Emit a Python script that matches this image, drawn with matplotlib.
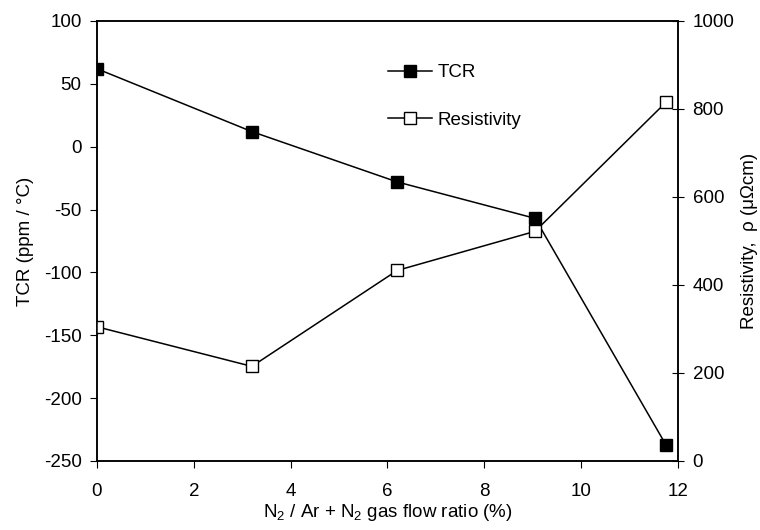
import matplotlib
matplotlib.use("Agg")
import matplotlib.pyplot as plt

plt.rcParams['font.family'] = ['Liberation Sans', 'DejaVu Sans']
plt.rcParams['mathtext.fontset'] = 'custom'
plt.rcParams['mathtext.rm'] = 'Liberation Sans'
plt.rcParams['mathtext.it'] = 'Liberation Sans'
plt.rcParams['mathtext.default'] = 'regular'
plt.rcParams['axes.unicode_minus'] = False

flow_ratio = [0.0, 3.2, 6.2, 9.05, 11.75]
tcr = [62, 12, -28, -57, -237]
resistivity = [305, 215, 433, 522, 815]

FS = 13.5

fig = plt.figure(figsize=(7.6, 5.3), dpi=100)
ax = fig.add_axes([0.1276, 0.1302, 0.892 - 0.1276, 0.9604 - 0.1302])
ax2 = ax.twinx()

l1, = ax.plot(flow_ratio, tcr, color='black', lw=1.1, marker='s', ms=8.5,
              mfc='black', mec='black', label='TCR')
l2, = ax2.plot(flow_ratio, resistivity, color='black', lw=1.1, marker='s', ms=8.5,
               mfc='white', mec='black', mew=1.0, label='Resistivity')

ax.set_xlim(0, 12)
ax.set_ylim(-250, 100)
ax2.set_ylim(0, 1000)
ax.set_xticks([0, 2, 4, 6, 8, 10, 12])
ax.set_yticks([-250, -200, -150, -100, -50, 0, 50, 100])
ax2.set_yticks([0, 200, 400, 600, 800, 1000])

ax.tick_params(axis='y', direction='out', length=5, labelsize=FS, pad=6)
ax.tick_params(axis='x', direction='out', length=5, labelsize=FS, pad=11)
ax2.tick_params(axis='y', direction='inout', length=9, labelsize=FS, pad=6)

for a in (ax, ax2):
    for s in a.spines.values():
        s.set_linewidth(1.1)

ax.set_xlabel(r'N$_2$ / Ar + N$_2$ gas flow ratio (%)', fontsize=FS, labelpad=1)
ax.set_ylabel('TCR (ppm / \u00b0C)', fontsize=FS, labelpad=7)
ax2.set_ylabel('Resistivity,  \u03c1 (\u03bc\u03a9cm)', fontsize=FS, labelpad=5)

ax2.legend(handles=[l1, l2], loc='upper left', bbox_to_anchor=(0.510, 0.879),
           bbox_transform=fig.transFigure, frameon=False, fontsize=FS,
           handlelength=2.35, handletextpad=0.3, labelspacing=1.62,
           borderaxespad=0, borderpad=0)

fig.savefig('out.png', dpi=100)
